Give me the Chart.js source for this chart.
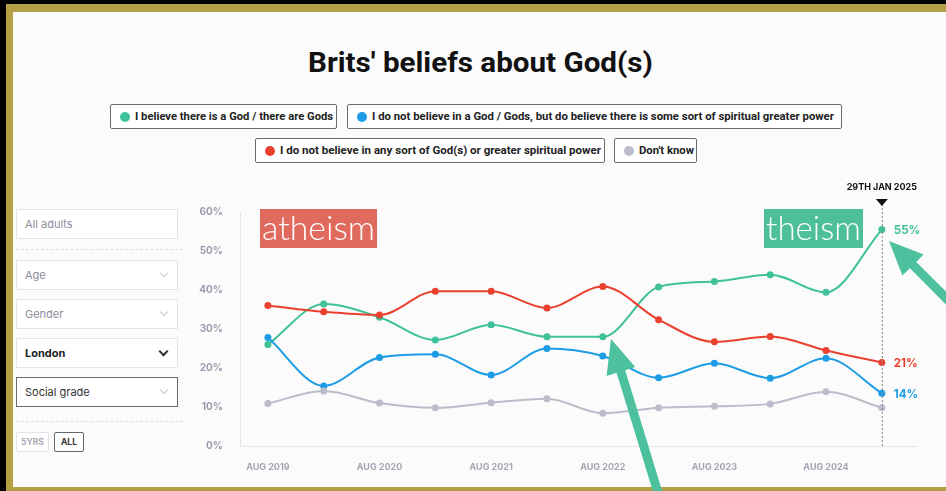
<!DOCTYPE html>
<html>
<head>
<meta charset="utf-8">
<script src="https://cdn.jsdelivr.net/npm/chart.js@4.4.1/dist/chart.umd.min.js"></script>
<style>
  html, body { margin: 0; padding: 0; width: 946px; height: 491px; overflow: hidden; background: #000; }
  #frame { position: absolute; left: 6px; top: 4px; width: 940px; height: 487px; background: #b59f45; }
  #panel { position: absolute; left: 13px; top: 12px; width: 933px; height: 475px; background: #fbfbfb; }
  #title { position: absolute; left: 308px; top: 46px; white-space: nowrap;
    font: bold 28px Roboto, sans-serif; color: #111; transform-origin: left center; }
  .leg { position: absolute; height: 25px; border: 1px solid #6b6b6b; border-radius: 2px; background: #fff;
    box-sizing: border-box; font: bold 11px Roboto, sans-serif;
    color: #222; display: flex; align-items: center; white-space: nowrap; padding-left: 9px; overflow: hidden; }
  .leg i { display: inline-block; flex: none; width: 10px; height: 10px; border-radius: 50%; margin-right: 5px; }
  .leg span { display: inline-block; transform-origin: left center; }
  .box { position: absolute; left: 16px; width: 162px; height: 30px; box-sizing: border-box; background: #fff;
    border: 1px solid #e4e4ea; font: 11px Inter, sans-serif; color: #8c8c9c; display: flex; align-items: center; padding-left: 8px; }
  .box .chev { position: absolute; right: 10px; top: 9px; width: 5px; height: 5px; border-right: 1px solid #c8c8d2;
    border-bottom: 1px solid #c8c8d2; transform: rotate(45deg); }
  .dash { position: absolute; left: 16px; width: 167px; border-top: 1px dashed #dcdce4; }
  .btn { position: absolute; top: 432px; height: 20px; box-sizing: border-box; border: 1px solid #e2e2e8; border-radius: 2px;
    font: bold 8.5px Inter, sans-serif; color: #a8a8b6; display: flex; align-items: center; justify-content: center; background: #fff; }
  #chartWrap { position: absolute; left: 195px; top: 180px; width: 751px; height: 300px; }
  #arrows { position: absolute; left: 0; top: 0; width: 946px; height: 491px; pointer-events: none; }
</style>
</head>
<body>
<div id="frame"></div>
<div id="panel"></div>
<div id="title">Brits' beliefs about God(s)</div>
<div id="legend"></div>

<div class="box" style="top:209px">All adults</div>
<div class="dash" style="top:249px"></div>
<div class="box" style="top:260px">Age<span class="chev"></span></div>
<div class="box" style="top:299px">Gender<span class="chev"></span></div>
<div class="box" style="top:338px;color:#222;font-weight:bold">London<span class="chev" style="border-color:#333;border-width:2px"></span></div>
<div class="box" style="top:377px;color:#333;border:1.5px solid #6a6a6a">Social grade<span class="chev"></span></div>
<div class="dash" style="top:421px"></div>
<div class="btn" style="left:16px;width:33px">5YRS</div>
<div class="btn" style="left:54px;width:30px;color:#333;border:1.5px solid #666">ALL</div>

<div id="chartWrap"><canvas id="chart" width="751" height="300"></canvas></div>
<svg id="arrows" viewBox="0 0 946 491"></svg>

<script>
// data, one point every six months
const periods = ['AUG 2019', 'FEB 2020', 'AUG 2020', 'FEB 2021', 'AUG 2021', 'FEB 2022',
  'AUG 2022', 'FEB 2023', 'AUG 2023', 'FEB 2024', 'AUG 2024', '29TH JAN 2025'];
const tickIdx = [0, 2, 4, 6, 8, 10];
const yTicks = [0, 10, 20, 30, 40, 50, 60];

const seriesNames = [
  'I believe there is a God / there are Gods',
  'I do not believe in a God / Gods, but do believe there is some sort of spiritual greater power',
  'I do not believe in any sort of God(s) or greater spiritual power',
  "Don't know"
];
const seriesColors = ['#3fc19a', '#1d9ce6', '#ea412f', '#bcbccb'];

const believeGod = [26, 36.4, 33, 27.2, 31.1, 28, 28, 40.8, 42.2, 43.9, 39.4, 55.5];
const spiritual = [27.8, 15.4, 22.7, 23.5, 18.2, 25, 23.1, 17.5, 21.2, 17.4, 22.5, 13.5];
const noBelief = [36, 34.4, 33.6, 39.7, 39.7, 35.4, 40.9, 32.4, 26.7, 28.1, 24.5, 21.4];
const dontKnow = [10.9, 14.1, 11, 9.8, 11.1, 12.1, 8.4, 9.8, 10.2, 10.8, 13.9, 9.8];

const endLabels = ['55%', '14%', '21%', null];

const allSeries = [believeGod, spiritual, noBelief, dontKnow];

// squeeze an element's text to a given width (the site font is condensed)
function fitWidth(el, w) {
  const k = w / el.getBoundingClientRect().width;
  el.style.transform = `scaleX(${k.toFixed(3)})`;
}
fitWidth(document.getElementById('title'), 345);

// legend buttons (html, two rows like the site)
const legendPos = [
  {left: 110, top: 104, width: 227, text: 198},
  {left: 347, top: 104, width: 495, text: 462},
  {left: 255, top: 138, width: 350, text: 321},
  {left: 614, top: 138, width: 83, text: 55}
];
const legendEl = document.getElementById('legend');
seriesNames.forEach((name, i) => {
  const p = legendPos[i];
  const d = document.createElement('div');
  d.className = 'leg';
  d.style.left = p.left + 'px';
  d.style.top = p.top + 'px';
  d.style.width = p.width + 'px';
  d.innerHTML = `<i style="background:${seriesColors[i]}"></i><span>${name}</span>`;
  legendEl.appendChild(d);
  fitWidth(d.querySelector('span'), p.text);
});

// annotations drawn on top of the chart
const annotate = {
  id: 'annotate',
  afterDatasetsDraw(chart) {
    const ctx = chart.ctx;
    const xs = chart.scales.x, ys = chart.scales.y;
    const last = periods.length - 1;
    const lx = xs.getPixelForValue(last);
    ctx.save();

    // dotted marker line for the latest poll
    ctx.strokeStyle = '#8a8a96';
    ctx.lineWidth = 1;
    ctx.setLineDash([2, 2]);
    ctx.beginPath();
    ctx.moveTo(lx + 0.5, 24);
    ctx.lineTo(lx + 0.5, ys.bottom);
    ctx.stroke();
    ctx.setLineDash([]);

    ctx.fillStyle = '#111';
    ctx.beginPath();
    ctx.moveTo(lx - 6, 19);
    ctx.lineTo(lx + 6, 19);
    ctx.lineTo(lx, 26);
    ctx.closePath();
    ctx.fill();

    ctx.font = 'bold 9px Inter, sans-serif';
    ctx.textAlign = 'center';
    ctx.textBaseline = 'middle';
    ctx.fillText(periods[last], lx, 7);

    // end values
    ctx.font = 'bold 11.5px Inter, sans-serif';
    ctx.textAlign = 'left';
    allSeries.forEach((s, i) => {
      if (!endLabels[i]) return;
      ctx.fillStyle = seriesColors[i];
      ctx.fillText(endLabels[i], lx + 12, ys.getPixelForValue(s[last]) + 1);
    });

    // word boxes
    const word = (txt, x, w, bg) => {
      ctx.fillStyle = bg;
      ctx.fillRect(x, 29, w, 39);
      ctx.font = '300 36px Lato, "Open Sans", sans-serif';
      const mw = ctx.measureText(txt).width;
      const size = 36 * (w - 4) / mw;
      ctx.font = `300 ${Math.min(size, 40).toFixed(1)}px Lato, "Open Sans", sans-serif`;
      ctx.fillStyle = '#fff';
      ctx.textAlign = 'center';
      ctx.textBaseline = 'middle';
      ctx.fillText(txt, x + w / 2, 49);
    };
    word('atheism', 65, 117, '#e06a5d');
    word('theism', 569, 99, '#4dbf9b');
    ctx.restore();
  }
};

const chart = new Chart(document.getElementById('chart'), {
  type: 'line',
  data: {
    datasets: allSeries.map((s, i) => ({
      label: seriesNames[i],
      data: s.map((v, j) => ({x: j, y: v})),
      borderColor: seriesColors[i],
      backgroundColor: seriesColors[i],
      pointBackgroundColor: seriesColors[i],
      pointBorderWidth: 0,
      pointRadius: 3.5,
      borderWidth: 2,
      cubicInterpolationMode: 'monotone'
    })).reverse()
  },
  options: {
    responsive: false,
    animation: false,
    layout: { padding: { top: 32, right: 29, left: 0, bottom: 0 } },
    plugins: { legend: { display: false }, tooltip: { enabled: false } },
    scales: {
      x: {
        type: 'linear',
        min: -0.5,
        max: 11.63,
        grid: { display: false },
        border: { color: '#e4e4ea' },
        afterBuildTicks: s => { s.ticks = tickIdx.map(v => ({value: v})); },
        afterFit: s => { s.height = 34; },
        ticks: {
          padding: 8,
          maxRotation: 0,
          color: '#a4a4b4',
          font: { family: 'Inter', size: 9, weight: 'bold' },
          callback: v => periods[v]
        }
      },
      y: {
        min: 0,
        max: 60,
        grid: { display: false },
        border: { color: '#e4e4ea' },
        afterBuildTicks: s => { s.ticks = yTicks.map(v => ({value: v})); },
        afterFit: s => { s.width = 45; },
        ticks: {
          padding: 9,
          color: '#9c9cae',
          font: { family: 'Inter', size: 10, weight: 'bold' },
          callback: v => v + '%'
        }
      }
    }
  },
  plugins: [annotate]
});

// the two big pointer arrows over the picture
const svg = document.getElementById('arrows');
function arrow(x1, y1, x2, y2, shaft, headLen, headW, color) {
  const dx = x2 - x1, dy = y2 - y1;
  const len = Math.hypot(dx, dy);
  const ux = dx / len, uy = dy / len, nx = -uy, ny = ux;
  const bx = x2 - ux * headLen, by = y2 - uy * headLen;
  const pts = [
    [x1 + nx * shaft / 2, y1 + ny * shaft / 2],
    [bx + nx * shaft / 2, by + ny * shaft / 2],
    [bx + nx * headW / 2, by + ny * headW / 2],
    [x2, y2],
    [bx - nx * headW / 2, by - ny * headW / 2],
    [bx - nx * shaft / 2, by - ny * shaft / 2],
    [x1 - nx * shaft / 2, y1 - ny * shaft / 2]
  ];
  const p = document.createElementNS('http://www.w3.org/2000/svg', 'polygon');
  p.setAttribute('points', pts.map(q => q.map(n => n.toFixed(1)).join(',')).join(' '));
  p.setAttribute('fill', color);
  svg.appendChild(p);
}
arrow(659, 496, 611, 339, 9, 34, 30, '#4dc19e');
arrow(952, 304, 889, 241, 9, 34, 30, '#4dc19e');
</script>
</body>
</html>
